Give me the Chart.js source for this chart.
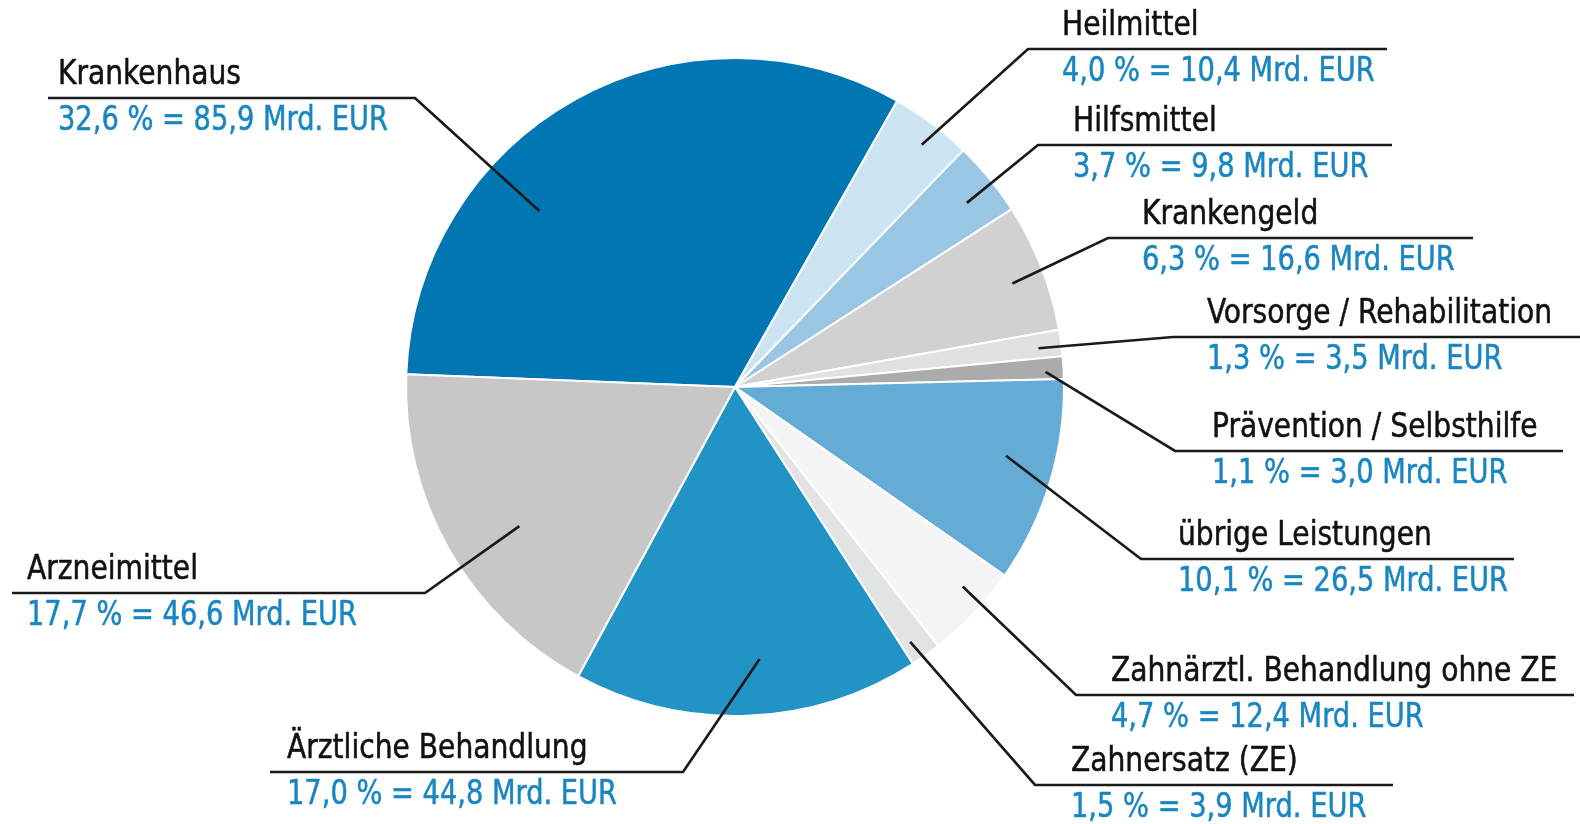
<!DOCTYPE html>
<html><head><meta charset="utf-8">
<script src="https://cdn.jsdelivr.net/npm/chart.js@4"></script>
<style>html,body{margin:0;padding:0;background:#fff;}#wrap{width:1580px;height:824px;position:relative}</style>
</head><body><div id="wrap"><canvas id="c" width="1580" height="824"></canvas></div>
<script>
const categories = ['Krankenhaus','Heilmittel','Hilfsmittel','Krankengeld','Vorsorge / Rehabilitation','Prävention / Selbsthilfe','übrige Leistungen','Zahnärztl. Behandlung ohne ZE','Zahnersatz (ZE)','Ärztliche Behandlung','Arzneimittel'];
const shares = [32.6, 4.0, 3.7, 6.3, 1.3, 1.1, 10.1, 4.7, 1.5, 17.0, 17.7];
const amounts = [85.9, 10.4, 9.8, 16.6, 3.5, 3.0, 26.5, 12.4, 3.9, 44.8, 46.6];
const sliceColors = ['#0077B2','#CCE3F2','#99C7E3','#D0D1D0','#E0E1E0','#ABABAB','#64ACD5','#F5F5F5','#E2E4E3','#2194C5','#C6C7C6'];

// label placement: t = fraction along slice, rf = fraction of radius, tx = text x, uy = underline y, ux0/ux1 = underline extent, left = bend at right end
const labelLayout = [
  {t:0.339, rf:0.80, tx:58,   uy:98,  ux0:48,   ux1:415,  left:true},
  {t:0.56,  rf:0.93, tx:1062, uy:49,  ux0:1028, ux1:1387, left:false},
  {t:0.57,  rf:0.90, tx:1073, uy:145, ux0:1038, ux1:1392, left:false},
  {t:0.54,  rf:0.90, tx:1142, uy:238, ux0:1108, ux1:1473, left:false},
  {t:0.59,  rf:0.93, tx:1207, uy:337, ux0:1173, ux1:1580, left:false},
  {t:0.65,  rf:0.945,tx:1212, uy:451, ux0:1175, ux1:1563, left:false},
  {t:0.43,  rf:0.85, tx:1178, uy:559, ux0:1141, ux1:1514, left:false},
  {t:0.37,  rf:0.92, tx:1111, uy:695, ux0:1076, ux1:1574, left:false},
  {t:0.67,  rf:0.94, tx:1071, uy:785, ux0:1035, ux1:1393, left:false},
  {t:0.45,  rf:0.83, tx:287,  uy:772, ux0:270,  ux1:683,  left:true},
  {t:0.45,  rf:0.78, tx:27,   uy:593, ux0:12,   ux1:425,  left:true}
];

const FONT = '33px "DejaVu Sans Condensed", "DejaVu Sans", sans-serif';
const NAME_COLOR = '#111111';
const VALUE_COLOR = '#1a86c1';
const fmt = v => v.toFixed(1).replace('.', ',');

const labelPlugin = {
  id: 'leaderLabels',
  afterDraw(chart) {
    const ctx = chart.ctx;
    const arcs = chart.getDatasetMeta(0).data;
    ctx.save();
    ctx.font = FONT;
    ctx.textBaseline = 'alphabetic';
    ctx.textAlign = 'left';
    const hs = 183 / ctx.measureText('Krankenhaus').width;
    const drawScaled = (s, x, y, col, sx, sw) => {
      ctx.save();
      ctx.translate(x, y);
      ctx.scale(sx, 1);
      ctx.fillStyle = col;
      ctx.strokeStyle = col;
      ctx.lineWidth = sw;
      ctx.lineJoin = 'round';
      ctx.fillText(s, 0, 0);
      if (sw > 0) ctx.strokeText(s, 0, 0);
      ctx.restore();
    };
    labelLayout.forEach((L, i) => {
      const p = arcs[i].getProps(['x','y','startAngle','endAngle','outerRadius'], true);
      const a = p.startAngle + L.t * (p.endAngle - p.startAngle);
      const ex = p.x + Math.cos(a) * p.outerRadius * L.rf;
      const ey = p.y + Math.sin(a) * p.outerRadius * L.rf;
      const bend = L.left ? L.ux1 : L.ux0;
      const far = L.left ? L.ux0 : L.ux1;
      ctx.strokeStyle = '#1a1a1a';
      ctx.lineWidth = 2.7;
      ctx.lineJoin = 'miter';
      ctx.beginPath();
      ctx.moveTo(far, L.uy);
      ctx.lineTo(bend, L.uy);
      ctx.lineTo(ex, ey);
      ctx.stroke();
      drawScaled(categories[i], L.tx, L.uy - 14, NAME_COLOR, hs, 0.5);
      drawScaled(fmt(shares[i]) + ' % = ' + fmt(amounts[i]) + ' Mrd. EUR', L.tx, L.uy + 32, VALUE_COLOR, hs * 0.97, 0.5);
    });
    ctx.restore();
  }
};

new Chart(document.getElementById('c'), {
  type: 'pie',
  data: {
    labels: categories,
    datasets: [{
      data: shares,
      backgroundColor: sliceColors,
      borderColor: '#ffffff',
      borderWidth: 2
    }]
  },
  options: {
    responsive: false,
    devicePixelRatio: 1,
    animation: false,
    rotation: -87.8,
    radius: 329,
    layout: { padding: { left: 407, right: 517, top: 59, bottom: 109 } },
    plugins: { legend: { display: false }, tooltip: { enabled: false } }
  },
  plugins: [labelPlugin]
});
</script>
</body></html>
